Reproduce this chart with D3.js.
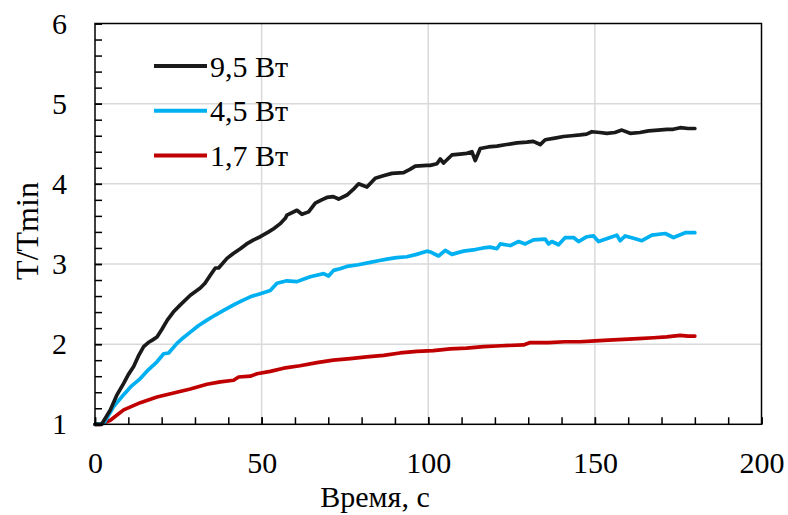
<!DOCTYPE html>
<html>
<head>
<meta charset="utf-8">
<script src="https://cdn.jsdelivr.net/npm/d3@7"></script>
<style>
    body { margin: 0; background: #fff; }
    svg { font-family: "Liberation Serif", "Times New Roman", serif; }
    .tick text { font-family: "Liberation Serif", "Times New Roman", serif; font-size: 30px; fill: #000; }
</style>
</head>
<body>
<svg id="chart" width="788" height="515"></svg>
<script>
"use strict";

// Chart dimensions
const width = 788;
const height = 515;
const margin = { top: 23.5, right: 26.5, bottom: 90.7, left: 95 };

// Series data
const seriesNames = ["9,5 Вт", "4,5 Вт", "1,7 Вт"];
const seriesColors = ["#1a1a1a", "#00b0f0", "#c00000"];

const timeBlack = [
    0, 2, 4.6, 6.5, 8.6, 10, 11.6, 13, 14.6, 16,
    17.2, 18.6, 20, 21.7, 23.5, 25.6, 28.6, 31.6, 33, 34.6,
    36.1, 37.1, 39.6, 41.5, 43.6, 45.5, 47.6, 49.6, 52.1, 53.6,
    55.5, 57.1, 57.6, 60.6, 62.1, 64.1, 66.1, 68, 69.6, 71.5,
    73.1, 75.6, 77.5, 79.1, 81.6, 84.1, 86.5, 89.1, 92.6, 94.5,
    96.1, 99.6, 100.6, 102.6, 103.6, 104.6, 107.1, 109.5, 111.6, 113.1,
    114.1, 115.6, 118, 120.6, 123.5, 126.6, 129.6, 131.5, 133.6, 135.1,
    138, 140.6, 143, 145.6, 147.5, 149.1, 151.5, 153.6, 156, 158.1,
    160.6, 163.5, 166.1, 169, 171.6, 173.5, 175.6, 178, 180
];
const valuesBlack = [
    1.00, 1.00, 1.18, 1.36, 1.51, 1.62, 1.72, 1.85, 1.97, 2.02,
    2.05, 2.09, 2.18, 2.30, 2.40, 2.49, 2.61, 2.70, 2.76, 2.86,
    2.95, 2.95, 3.07, 3.13, 3.19, 3.25, 3.30, 3.34, 3.40, 3.44,
    3.50, 3.57, 3.61, 3.67, 3.62, 3.65, 3.76, 3.80, 3.83, 3.84,
    3.81, 3.86, 3.93, 4.00, 3.96, 4.07, 4.10, 4.13, 4.14, 4.18,
    4.22, 4.23, 4.23, 4.25, 4.31, 4.26, 4.36, 4.37, 4.38, 4.40,
    4.29, 4.44, 4.46, 4.47, 4.49, 4.51, 4.52, 4.53, 4.49, 4.55,
    4.57, 4.59, 4.60, 4.61, 4.62, 4.65, 4.64, 4.63, 4.64, 4.67,
    4.63, 4.64, 4.66, 4.67, 4.68, 4.68, 4.70, 4.69, 4.69
];

const timeBlue = [
    0, 2.6, 5.6, 8.6, 11, 13.6, 16, 18.6, 20.6, 22.1,
    24.6, 26.5, 28.6, 31, 33.6, 36, 38.6, 41.6, 44, 46.6,
    49.6, 52.6, 54.6, 57.6, 60.6, 62.5, 64.6, 66.5, 68.6, 70.1,
    71.6, 73.5, 75.6, 79, 82.6, 85, 87.6, 90.5, 93.6, 96.5,
    99.6, 100.6, 103.1, 105.1, 107.1, 110.6, 114.1, 116.5, 118.6, 120.6,
    121.6, 124.6, 127.1, 129.1, 131.6, 135.1, 136.1, 137.1, 139.1, 141.1,
    143.6, 145.1, 147.6, 149.6, 151.1, 154.6, 156.6, 157.6, 159.1, 161.6,
    164.1, 167.1, 171.1, 173.6, 177.1, 180
];
const valuesBlue = [
    1.00, 1.01, 1.22, 1.37, 1.48, 1.57, 1.68, 1.78, 1.88, 1.89,
    2.01, 2.08, 2.15, 2.23, 2.30, 2.36, 2.42, 2.49, 2.54, 2.59,
    2.63, 2.67, 2.76, 2.79, 2.78, 2.81, 2.84, 2.86, 2.88, 2.85,
    2.92, 2.94, 2.97, 2.99, 3.02, 3.04, 3.06, 3.08, 3.09, 3.12,
    3.16, 3.15, 3.10, 3.17, 3.12, 3.16, 3.18, 3.20, 3.21, 3.19,
    3.25, 3.23, 3.28, 3.25, 3.30, 3.31, 3.25, 3.28, 3.24, 3.33,
    3.33, 3.28, 3.34, 3.35, 3.28, 3.33, 3.36, 3.29, 3.35, 3.32,
    3.29, 3.36, 3.38, 3.33, 3.39, 3.39
];

const timeRed = [
    0, 1.6, 4.6, 8.6, 13.6, 18.6, 23.6, 28.6, 33.6, 37.6,
    41.6, 43.1, 46.6, 48.6, 52.6, 56.6, 61.5, 66.6, 71.5, 76.6,
    81.5, 86.6, 91.5, 96.6, 101.5, 106.6, 111.5, 116.6, 122, 128.6,
    130.6, 136, 141, 145.5, 150.1, 154, 158.6, 163, 167.6, 171.5,
    175.6, 178, 180
];
const valuesRed = [
    1.00, 1.00, 1.05, 1.18, 1.27, 1.34, 1.39, 1.44, 1.50, 1.53,
    1.55, 1.59, 1.60, 1.63, 1.66, 1.70, 1.73, 1.77, 1.80, 1.82,
    1.84, 1.86, 1.89, 1.91, 1.92, 1.94, 1.95, 1.97, 1.98, 1.99,
    2.02, 2.02, 2.03, 2.03, 2.04, 2.05, 2.06, 2.07, 2.08, 2.09,
    2.11, 2.10, 2.10
];

// Axis ticks
const xMajorTicks = [0, 50, 100, 150, 200];
const xMinorTicks = d3.range(0, 201, 10);
const yMajorTicks = [1, 2, 3, 4, 5, 6];
const yMinorTicks = d3.range(1, 6.01, 0.2);

const xLabel = "Время, с";
const yLabel = "T/Tmin";

const series = [
    { name: seriesNames[0], color: seriesColors[0], time: timeBlack, values: valuesBlack },
    { name: seriesNames[1], color: seriesColors[1], time: timeBlue, values: valuesBlue },
    { name: seriesNames[2], color: seriesColors[2], time: timeRed, values: valuesRed }
];

const svg = d3.select("#chart");
const innerW = width - margin.left - margin.right;
const innerH = height - margin.top - margin.bottom;

const xScale = d3.scaleLinear().domain([0, 200]).range([0, innerW]);
const yScale = d3.scaleLinear().domain([1, 6]).range([innerH, 0]);

const plot = svg.append("g").attr("transform", `translate(${margin.left}, ${margin.top})`);

// gridlines
plot.append("g").selectAll("line")
    .data(xMajorTicks.slice(1, -1))
    .join("line")
    .attr("x1", d => xScale(d)).attr("x2", d => xScale(d))
    .attr("y1", 0).attr("y2", innerH)
    .attr("stroke", "#d9d9d9").attr("stroke-width", 1.5);

plot.append("g").selectAll("line")
    .data(yMajorTicks.slice(1, -1))
    .join("line")
    .attr("y1", d => yScale(d)).attr("y2", d => yScale(d))
    .attr("x1", 0).attr("x2", innerW)
    .attr("stroke", "#d9d9d9").attr("stroke-width", 1.5);

// lines
const line = d3.line()
    .x(d => xScale(d[0]))
    .y(d => yScale(d[1]));

plot.append("g").selectAll("path")
    .data(series.slice().reverse())
    .join("path")
    .attr("d", d => line(d.time.map((t, i) => [t, d.values[i]])))
    .attr("fill", "none")
    .attr("stroke", d => d.color)
    .attr("stroke-width", 3.7)
    .attr("stroke-linejoin", "round")
    .attr("stroke-linecap", "round");

// axes
function styleAxis(g) {
    g.attr("font-family", null).attr("font-size", null);
    g.select(".domain").remove();
    g.selectAll(".tick line").attr("stroke", "#000").attr("stroke-width", 1.5);
}

plot.append("g")
    .attr("transform", `translate(0, ${innerH})`)
    .call(d3.axisBottom(xScale).tickValues(xMinorTicks).tickSize(-7).tickFormat(""))
    .call(styleAxis);

plot.append("g")
    .attr("transform", `translate(0, ${innerH})`)
    .call(d3.axisBottom(xScale).tickValues(xMajorTicks).tickSize(-7).tickPadding(27).tickFormat(d3.format("d")))
    .call(styleAxis);

plot.append("g")
    .call(d3.axisLeft(yScale).tickValues(yMinorTicks).tickSize(-7).tickFormat(""))
    .call(styleAxis);

plot.append("g")
    .call(d3.axisLeft(yScale).tickValues(yMajorTicks).tickSize(-7).tickPadding(28).tickFormat(d3.format("d")))
    .call(styleAxis);

// frame
plot.append("rect")
    .attr("width", innerW).attr("height", innerH)
    .attr("fill", "none").attr("stroke", "#000").attr("stroke-width", 1.5);

// axis titles
svg.append("text")
    .attr("x", 375).attr("y", 507)
    .attr("text-anchor", "middle")
    .style("font-size", "30px")
    .text(xLabel);

svg.append("text")
    .attr("transform", "translate(38, 231) rotate(-90)")
    .attr("text-anchor", "middle")
    .style("font-size", "32px")
    .text(yLabel);

// legend
const legend = svg.append("g").attr("transform", "translate(154, 66)");
const legendItems = legend.selectAll("g")
    .data(series)
    .join("g")
    .attr("transform", (d, i) => `translate(0, ${i * 44.8})`);

legendItems.append("line")
    .attr("x1", 0).attr("x2", 53)
    .attr("stroke", d => d.color).attr("stroke-width", 4);

legendItems.append("text")
    .attr("x", 56).attr("y", 10.5)
    .style("font-size", "30px")
    .text(d => d.name);
</script>
</body>
</html>
